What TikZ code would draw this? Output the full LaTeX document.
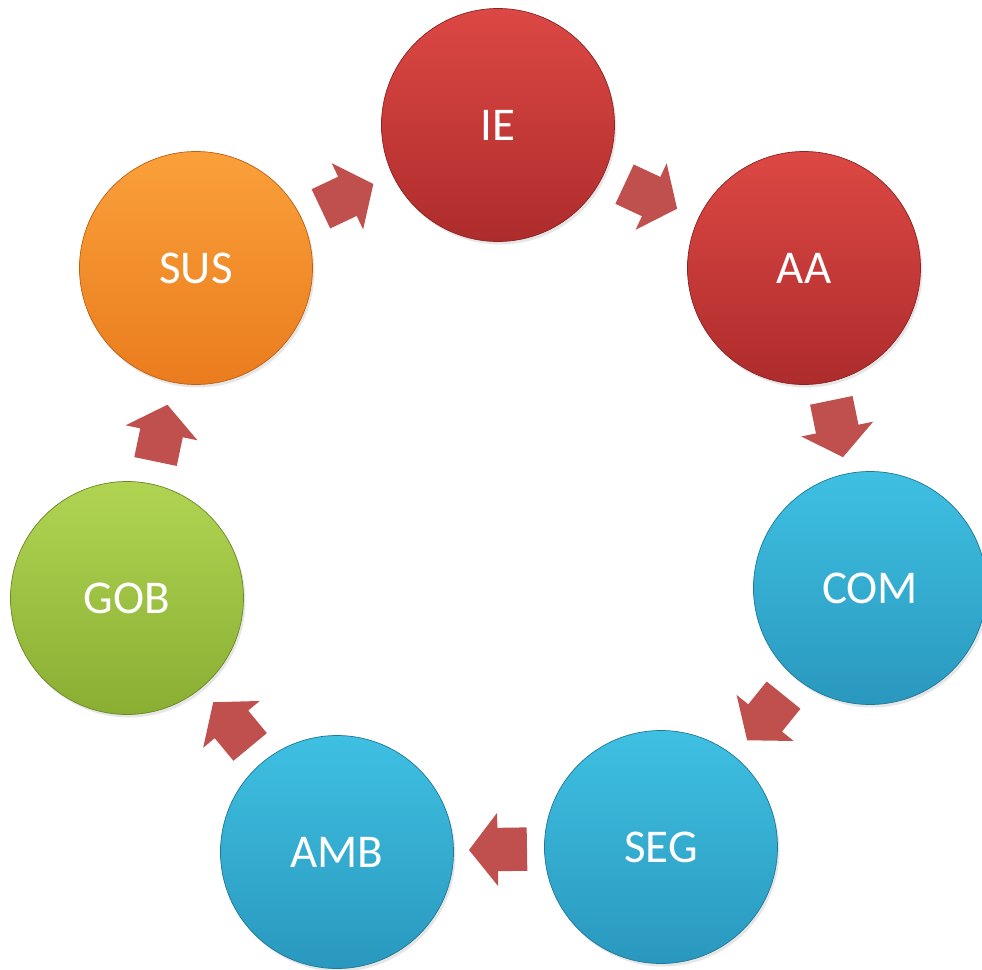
\documentclass[tikz,border=0pt]{standalone}
\usepackage{fontspec}
\setmainfont{Carlito}
\usetikzlibrary{shapes.arrows,shadows,calc}
\definecolor{arrowred}{RGB}{192,80,77}
\definecolor{redtop}{RGB}{220,72,68}
\definecolor{redbot}{RGB}{174,44,44}
\definecolor{redline}{RGB}{140,34,34}
\definecolor{bluetop}{RGB}{62,192,226}
\definecolor{bluebot}{RGB}{42,152,190}
\definecolor{blueline}{RGB}{30,120,150}
\definecolor{orangetop}{RGB}{250,160,58}
\definecolor{orangebot}{RGB}{234,124,30}
\definecolor{orangeline}{RGB}{190,95,20}
\definecolor{greentop}{RGB}{176,212,82}
\definecolor{greenbot}{RGB}{138,174,50}
\definecolor{greenline}{RGB}{105,135,38}
\begin{document}
\begin{tikzpicture}[x=1pt,y=-1pt,
  ball/.style={circle, minimum size=233pt, inner sep=0pt, text=white,
    font=\fontsize{47}{56}\selectfont, line width=0.7pt,
    drop shadow={opacity=0.2, shadow xshift=2pt, shadow yshift=-3pt}},
  redball/.style={ball, top color=redtop, bottom color=redbot, draw=redline},
  blueball/.style={ball, top color=bluetop, bottom color=bluebot, draw=blueline},
  orangeball/.style={ball, top color=orangetop, bottom color=orangebot, draw=orangeline},
  greenball/.style={ball, top color=greentop, bottom color=greenbot, draw=greenline},
  flow/.style={single arrow, fill=arrowred, draw=none, minimum height=58pt,
    inner xsep=0pt, inner ysep=21.5pt, single arrow head extend=15pt,
    single arrow tip angle=104, sloped, allow upside down, anchor=tail, pos=0.413}]
\clip (0,0) rectangle (982,969);
\node[redball] (IE) at (498,125) {IE};
\node[redball] (AA) at (804,268) {AA};
\node[blueball] (COM) at (870,588) {COM};
\node[blueball] (SEG) at (661,847) {SEG};
\node[blueball] (AMB) at (337,852) {AMB};
\node[greenball] (GOB) at (127,598) {GOB};
\node[orangeball] (SUS) at (196,268) {SUS};
\path (SUS.center) -- node[flow] (a1) {} (IE.center);
\path (IE.center) -- node[flow] (a2) {} (AA.center);
\path (AA.center) -- node[flow] (a3) {} (COM.center);
\path (COM.center) -- node[flow] (a4) {} (SEG.center);
\path (SEG.center) -- node[flow] (a5) {} (AMB.center);
\path (AMB.center) -- node[flow] (a6) {} (GOB.center);
\path (GOB.center) -- node[flow] (a7) {} (SUS.center);
\end{tikzpicture}
\end{document}
